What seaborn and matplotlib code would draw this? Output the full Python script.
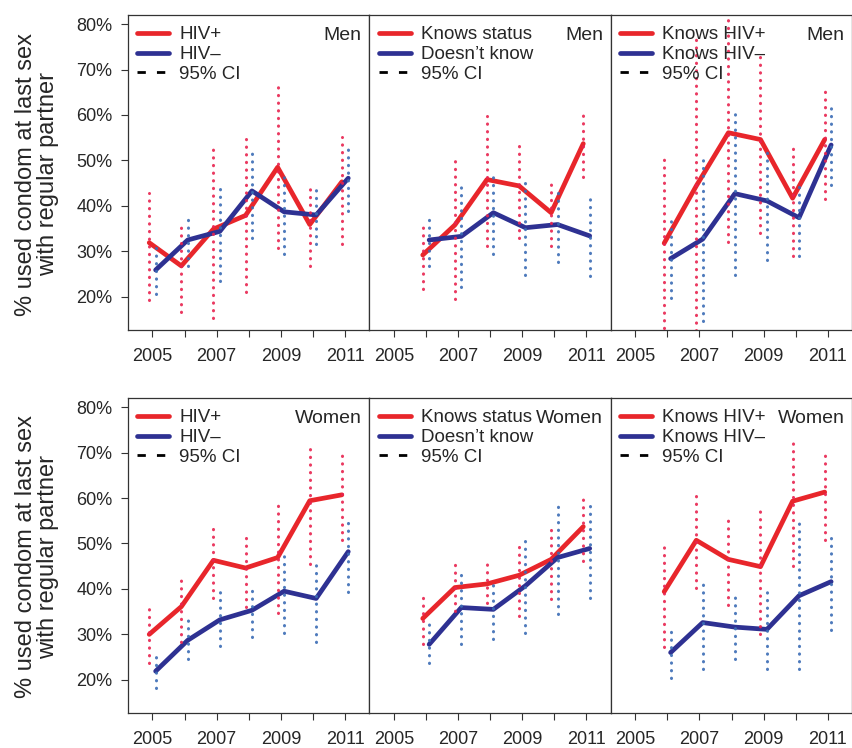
import numpy as np
import pandas as pd
import matplotlib
matplotlib.use("Agg")
import matplotlib.pyplot as plt
from matplotlib.lines import Line2D
from matplotlib.ticker import FuncFormatter
import seaborn as sns

# years
years_all = [2005, 2006, 2007, 2008, 2009, 2010, 2011]
years_late = [2006, 2007, 2008, 2009, 2010, 2011]

# Men - HIV+ / HIV-
men_pos = [31.9, 26.8, 34.9, 37.9, 48.5, 35.9, 45.3]
men_pos_lo = [19.3, 16.7, 15.3, 21.0, 30.8, 26.8, 31.7]
men_pos_hi = [42.9, 36.7, 52.6, 54.8, 66.2, 44.9, 55.1]
men_neg = [25.9, 32.5, 34.4, 43.3, 38.7, 38.0, 46.1]
men_neg_lo = [20.7, 26.8, 23.5, 33.0, 29.4, 31.6, 38.9]
men_neg_hi = [31.2, 37.9, 45.1, 52.8, 47.3, 44.2, 53.2]

# Men - knows status / doesn't know
men_knows = [29.2, 35.8, 45.8, 44.4, 38.5, 53.7]
men_knows_lo = [21.8, 19.5, 31.1, 33.0, 31.1, 46.4]
men_knows_hi = [36.2, 51.3, 59.7, 54.8, 45.7, 60.7]
men_dk = [32.5, 33.3, 38.5, 35.2, 35.9, 33.4]
men_dk_lo = [26.8, 22.1, 29.4, 24.8, 27.7, 24.5]
men_dk_hi = [37.8, 45.0, 47.3, 45.8, 43.8, 42.3]

# Men - knows HIV+ / knows HIV-
men_kpos = [31.8, 44.4, 56.1, 54.6, 41.7, 54.6]
men_kpos_lo = [8.0, 11.0, 32.1, 34.1, 29.0, 41.6]
men_kpos_hi = [50.6, 77.7, 84.0, 73.3, 53.9, 66.7]
men_kneg = [28.4, 32.7, 42.7, 41.1, 37.4, 53.4]
men_kneg_lo = [19.7, 14.7, 24.8, 28.1, 28.9, 44.5]
men_kneg_hi = [37.4, 50.2, 60.2, 53.2, 45.0, 62.3]

# Women - HIV+ / HIV-
wom_pos = [30.0, 36.1, 46.3, 44.6, 46.9, 59.4, 60.7]
wom_pos_lo = [23.8, 28.3, 37.9, 36.1, 34.8, 45.4, 50.7]
wom_pos_hi = [36.4, 43.1, 54.6, 52.8, 58.5, 72.4, 70.6]
wom_neg = [21.9, 28.7, 33.2, 35.3, 39.5, 37.9, 48.2]
wom_neg_lo = [18.2, 24.6, 27.4, 29.5, 30.4, 28.3, 39.3]
wom_neg_hi = [25.4, 33.3, 39.8, 40.5, 48.4, 46.3, 55.7]

# Women - knows status / doesn't know
wom_knows = [33.5, 40.3, 41.1, 43.0, 46.5, 53.7]
wom_knows_lo = [27.8, 35.1, 37.0, 34.0, 37.7, 46.2]
wom_knows_hi = [39.3, 45.8, 46.4, 50.6, 54.3, 60.7]
wom_dk = [27.8, 35.9, 35.5, 40.7, 46.9, 48.9]
wom_dk_lo = [23.6, 27.8, 28.9, 30.2, 34.4, 37.9]
wom_dk_hi = [32.6, 44.0, 41.8, 51.7, 59.4, 59.6]

# Women - knows HIV+ / knows HIV-
wom_kpos = [39.4, 50.7, 46.5, 44.9, 59.3, 61.3]
wom_kpos_lo = [27.2, 40.1, 36.4, 30.0, 45.1, 50.7]
wom_kpos_hi = [50.6, 60.4, 56.3, 57.2, 73.4, 70.4]
wom_kneg = [26.0, 32.6, 31.6, 31.1, 38.5, 41.6]
wom_kneg_lo = [20.4, 22.3, 24.6, 22.4, 22.3, 30.9]
wom_kneg_hi = [31.2, 42.0, 38.6, 40.1, 54.5, 52.3]

labels_a = ["HIV+", "HIV\u2013"]
labels_b = ["Knows status", "Doesn\u2019t know"]
labels_c = ["Knows HIV+", "Knows HIV\u2013"]

panels = [
    ("Men", labels_a, years_all, (men_pos, men_pos_lo, men_pos_hi), (men_neg, men_neg_lo, men_neg_hi)),
    ("Men", labels_b, years_late, (men_knows, men_knows_lo, men_knows_hi), (men_dk, men_dk_lo, men_dk_hi)),
    ("Men", labels_c, years_late, (men_kpos, men_kpos_lo, men_kpos_hi), (men_kneg, men_kneg_lo, men_kneg_hi)),
    ("Women", labels_a, years_all, (wom_pos, wom_pos_lo, wom_pos_hi), (wom_neg, wom_neg_lo, wom_neg_hi)),
    ("Women", labels_b, years_late, (wom_knows, wom_knows_lo, wom_knows_hi), (wom_dk, wom_dk_lo, wom_dk_hi)),
    ("Women", labels_c, years_late, (wom_kpos, wom_kpos_lo, wom_kpos_hi), (wom_kneg, wom_kneg_lo, wom_kneg_hi)),
]

RED = "#e8262b"
BLUE = "#2e3192"
RED_CI = "#e8234f"
BLUE_CI = "#3b6cb5"

sns.set_style("ticks")
plt.rcParams["font.family"] = ["Liberation Sans", "DejaVu Sans"]
FS = 14      # panel text
LFS = 13.5   # legend text
TFS = 13     # tick labels
YFS = 17     # y label

fig, axes = plt.subplots(2, 3, figsize=(8.53, 7.48), dpi=100, sharey=True)
fig.subplots_adjust(left=127.7 / 853, right=852 / 853, top=1 - 15 / 748,
                    bottom=1 - 713 / 748, wspace=0, hspace=0.216)

for ax, (sex, labs, yrs, red, blue) in zip(axes.flat, panels):
    yrs = np.array(yrs)
    df = pd.concat([
        pd.DataFrame({"x": yrs - 0.1, "y": red[0], "g": labs[0]}),
        pd.DataFrame({"x": yrs + 0.1, "y": blue[0], "g": labs[1]}),
    ])
    sns.lineplot(data=df, x="x", y="y", hue="g", palette={labs[0]: RED, labs[1]: BLUE},
                 lw=3.4, legend=False, ax=ax, zorder=2)
    # dotted 95% CI
    for off, (m, lo, hi), c in [(-0.1, red, RED_CI), (0.1, blue, BLUE_CI)]:
        lc = ax.vlines(yrs + off, lo, hi, colors=c, lw=2.2,
                       linestyles=[(0, (0.1, 2.4))], zorder=3, alpha=0.9)
        lc.set_capstyle("round")

    ax.set_xlim(2004.23, 2011.75)
    ax.set_ylim(12.7, 82.0)
    ax.set_xticks(years_all)
    ax.set_xticklabels([str(y) if y % 2 == 1 else "" for y in years_all])
    ax.set_yticks([20, 30, 40, 50, 60, 70, 80])
    ax.yaxis.set_major_formatter(FuncFormatter(lambda v, p: f"{v:.0f}%"))
    ax.set_xlabel("")
    ax.set_ylabel("")
    ax.tick_params(axis="both", labelsize=TFS, length=5, width=0.8, color="#333333")
    ax.tick_params(axis="x", pad=8)
    ax.tick_params(axis="y", pad=6)
    for s in ax.spines.values():
        s.set_visible(True)
        s.set_color("#333333")
        s.set_linewidth(0.9)
    if ax not in axes[:, 0]:
        ax.tick_params(axis="y", length=0, labelleft=False)

    handles = [Line2D([], [], color=RED, lw=3.4),
               Line2D([], [], color=BLUE, lw=3.4),
               Line2D([], [], color="black", lw=2, linestyle=(0, (3, 4)))]
    ax.legend(handles, [labs[0], labs[1], "95% CI"], loc="upper left",
              bbox_to_anchor=(0.04, 0.965), frameon=False, fontsize=LFS,
              handlelength=1.7, handletextpad=0.53, labelspacing=0.15,
              borderpad=0, borderaxespad=0)
    ax.text(0.969, 0.921, sex, transform=ax.transAxes, ha="right", va="baseline",
            fontsize=FS)

ylab = "% used condom at last sex\nwith regular partner"
fig.text(37 / 853, 1 - 174 / 748, ylab, rotation=90, ha="center", va="center",
         fontsize=YFS, multialignment="center", linespacing=0.95)
fig.text(37 / 853, 1 - 557 / 748, ylab, rotation=90, ha="center", va="center",
         fontsize=YFS, multialignment="center", linespacing=0.95)

fig.savefig("out.png", dpi=100)
